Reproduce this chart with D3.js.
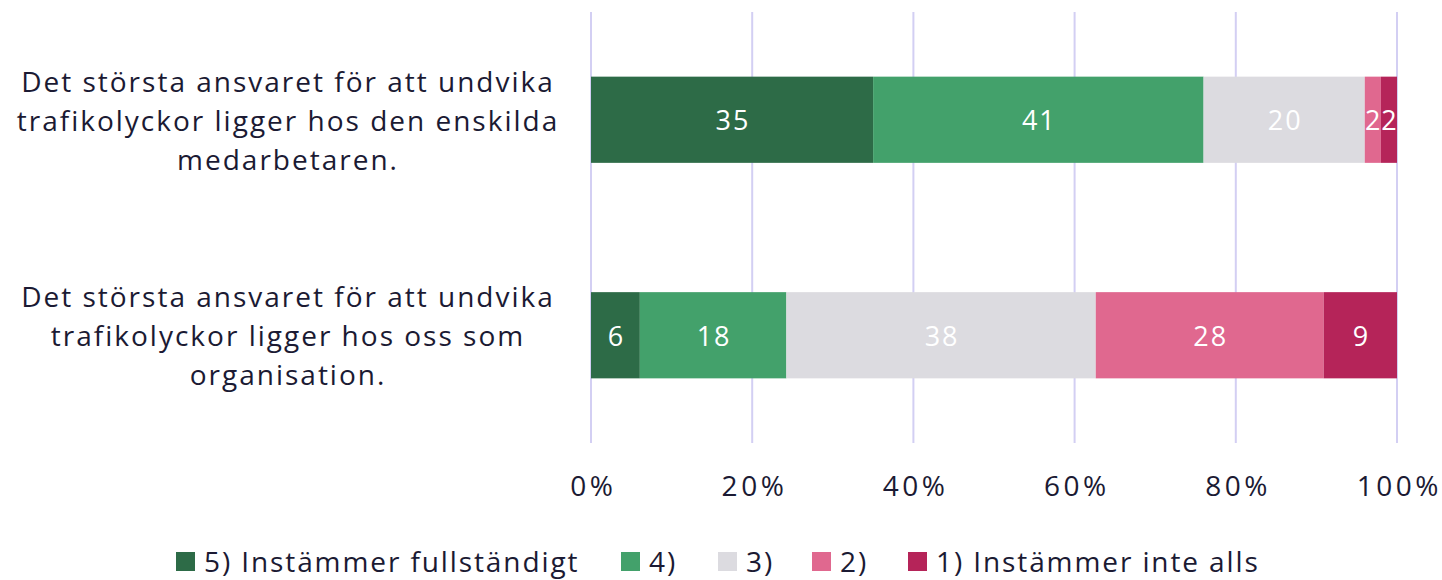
<!DOCTYPE html>
<html><head><meta charset="utf-8">
<script src="https://cdn.jsdelivr.net/npm/d3@7"></script>
<style>body{margin:0;background:#fff}svg{display:block}</style>
</head><body>
<svg id="c" width="1442" height="580"></svg>
<script>
const categories = [
  ["Det största ansvaret för att undvika","trafikolyckor ligger hos den enskilda","medarbetaren."],
  ["Det största ansvaret för att undvika","trafikolyckor ligger hos oss som","organisation."]
];
const seriesNames = ["5) Instämmer fullständigt","4)","3)","2)","1) Instämmer inte alls"];
const seriesColors = ["#2d6b47","#43a16b","#dcdbe0","#e0688f","#b52459"];
const s5 = [35, 6];
const s4 = [41, 18];
const s3 = [20, 38];
const s2 = [2, 28];
const s1 = [2, 9];
const tickValues = [0,20,40,60,80,100];
const tickLabels = ["0%","20%","40%","60%","80%","100%"];

const font = "'Open Sans', sans-serif";
const textColor = "#1b1a33";
const svg = d3.select("#c");
const x = d3.scaleLinear().domain([0,100]).range([591,1397]);
const y = d3.scaleBand().domain([0,1]).range([12,443]).paddingInner(0.6).paddingOuter(0.3);

svg.append("g").selectAll("line").data(tickValues).join("line")
  .attr("x1",d=>x(d)).attr("x2",d=>x(d)).attr("y1",12).attr("y2",443)
  .attr("stroke","#d3cff3").attr("stroke-width",2);

const series = [s5,s4,s3,s2,s1];
const rows = [0,1].map(i=>{
  const total = d3.sum(series, s=>s[i]);
  let acc = 0;
  return series.map((s,k)=>{ const v=s[i]; const x0=acc/total*100; acc+=v; return {i,k,v,x0,x1:acc/total*100}; });
});
const segs = rows.flat();
svg.append("g").selectAll("rect").data(segs).join("rect")
  .attr("x",d=>x(d.x0)).attr("width",d=>x(d.x1)-x(d.x0))
  .attr("y",d=>y(d.i)).attr("height",y.bandwidth())
  .attr("fill",d=>seriesColors[d.k]);
svg.append("g").selectAll("text").data(segs).join("text")
  .attr("x",d=>(x(d.x0)+x(d.x1))/2+1).attr("y",d=>y(d.i)+y.bandwidth()/2)
  .attr("text-anchor","middle").attr("dominant-baseline","central")
  .attr("fill","#fff").attr("font-family",font).attr("font-size",27).attr("letter-spacing",2)
  .text(d=>d.v);

const catG = svg.append("g");
categories.forEach((lines,i)=>{
  const cy = y(i)+y.bandwidth()/2;
  const t = catG.append("text").attr("text-anchor","middle").attr("font-family",font)
    .attr("font-size",28).attr("letter-spacing",2).attr("fill",textColor);
  lines.forEach((l,j)=>{
    t.append("tspan").attr("x",288).attr("y",cy+(j-(lines.length-1)/2)*39)
      .attr("dominant-baseline","central").text(l);
  });
});

const axis = d3.axisBottom(x).tickValues(tickValues).tickFormat((d,i)=>tickLabels[i]).tickSize(0).tickPadding(0);
const ag = svg.append("g").attr("transform","translate(0,476)").call(axis);
ag.select(".domain").remove();
ag.selectAll("text").attr("font-family",font).attr("font-size",28).attr("letter-spacing",3.5)
  .attr("fill",textColor).attr("dy","0.71em").attr("dx",1.75);

const legX = [176,621,718,812,908];
const lg = svg.append("g").selectAll("g").data(seriesNames).join("g")
  .attr("transform",(d,i)=>`translate(${legX[i]},561)`);
lg.append("rect").attr("x",0).attr("y",-9).attr("width",19).attr("height",19)
  .attr("fill",(d,i)=>seriesColors[i]);
lg.append("text").attr("x",28).attr("y",0).attr("dominant-baseline","central")
  .attr("font-family",font).attr("font-size",28).attr("letter-spacing",1.9).attr("fill",textColor).text(d=>d);
</script>
</body></html>
